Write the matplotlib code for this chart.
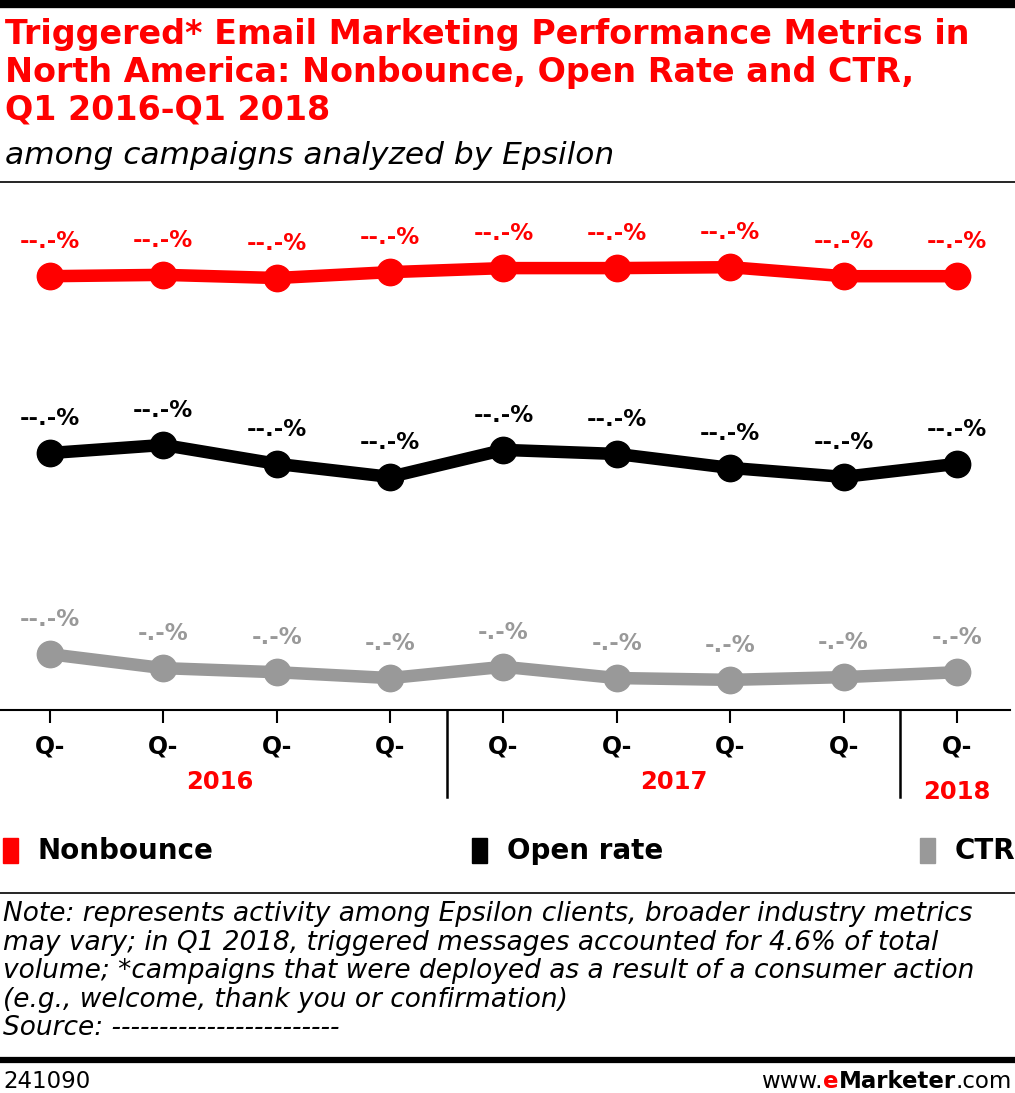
import matplotlib
matplotlib.use("Agg")
import matplotlib.pyplot as plt
import matplotlib.transforms as mtransforms
from matplotlib.patches import Rectangle

# data (arbitrary scale, 0 at the axis line)
quarters = ["Q-", "Q-", "Q-", "Q-", "Q-", "Q-", "Q-", "Q-", "Q-"]
years = ["2016", "2017", "2018"]
nonbounce = [96.4, 96.7, 96.0, 97.3, 98.2, 98.2, 98.4, 96.4, 96.4]
open_rate = [57.1, 58.9, 54.7, 51.8, 57.8, 56.9, 53.8, 51.8, 54.7]
ctr = [12.4, 9.3, 8.4, 7.1, 9.6, 7.1, 6.7, 7.3, 8.4]
nonbounce_lbl = ["--.-%"] * 9
open_lbl = ["--.-%"] * 9
ctr_lbl = ["--.-%", "-.-%", "-.-%", "-.-%", "-.-%", "-.-%", "-.-%", "-.-%", "-.-%"]

RED = "#ff0000"
GRAY = "#999999"

W, H = 1015, 1093
fig = plt.figure(figsize=(W / 100, H / 100), dpi=100)


def fy(px):
    return 1 - px / H


# rules
fig.add_artist(plt.Line2D([0, 1], [fy(4), fy(4)], color="black", lw=6))
fig.add_artist(plt.Line2D([0, 1], [fy(182), fy(182)], color="black", lw=1.2))
fig.add_artist(plt.Line2D([0, 1], [fy(893), fy(893)], color="black", lw=1.2))
fig.add_artist(plt.Line2D([0, 1], [fy(1060), fy(1060)], color="black", lw=4.5))

# title
fig.text(5 / W, fy(18), "Triggered* Email Marketing Performance Metrics in\n"
         "North America: Nonbounce, Open Rate and CTR,\nQ1 2016-Q1 2018",
         color=RED, fontsize=24, fontweight="bold",
         va="top", ha="left", linespacing=1.18)
fig.text(5 / W, fy(155), "among campaigns analyzed by Epsilon", fontsize=22.5,
         style="italic", va="center", ha="left")

# chart
ax = fig.add_axes([0, fy(710), 1010 / W, (710 - 200) / H])
step = (957 - 50) / 8
ax.set_xlim(-50 / step, (1010 - 50) / step)
ax.set_ylim(0, 510 / 4.5)
x = list(range(len(quarters)))

series = [(nonbounce, nonbounce_lbl, RED), (open_rate, open_lbl, "black"),
          (ctr, ctr_lbl, GRAY)]
for vals, lbls, col in series:
    ax.plot(x, vals, color=col, lw=9, marker="o", ms=19, solid_joinstyle="round",
            clip_on=False)
    for xi, v, t in zip(x, vals, lbls):
        ax.annotate(t, (xi, v), xytext=(0, 25), textcoords="offset points",
                    ha="center", va="center", color=col, fontsize=16.5,
                    fontweight="bold")

for s in ["top", "right", "left"]:
    ax.spines[s].set_visible(False)
ax.spines["bottom"].set_linewidth(1.5)
ax.set_yticks([])
ax.set_xticks(x)
ax.set_xticklabels(quarters, fontsize=17, fontweight="bold")
ax.tick_params(axis="x", direction="out", length=9.5, width=1.5, pad=8)

trans = mtransforms.blended_transform_factory(ax.transData, ax.transAxes)
for xs in [3.5, 7.5]:
    ax.plot([xs, xs], [0, -87 / 510], transform=trans, color="black", lw=1.8,
            clip_on=False)
year_pos = [(1.5, -72), (5.5, -72), (8, -82)]
for (xp, yp), yr in zip(year_pos, years):
    ax.text(xp, yp / 510, yr, transform=trans, ha="center", va="center",
            color=RED, fontsize=17.5, fontweight="bold")

# legend
leg = [(3, "Nonbounce", RED), (472, "Open rate", "black"), (920, "CTR", GRAY)]
for xp, name, col in leg:
    fig.add_artist(Rectangle((xp / W, fy(863)), 15 / W, 25 / H, color=col))
    fig.text((xp + 35) / W, fy(851), name, fontsize=20, fontweight="bold",
             va="center", ha="left")

# note
note = ("Note: represents activity among Epsilon clients, broader industry metrics\n"
        "may vary; in Q1 2018, triggered messages accounted for 4.6% of total\n"
        "volume; *campaigns that were deployed as a result of a consumer action\n"
        "(e.g., welcome, thank you or confirmation)\n"
        "Source: ------------------------")
fig.text(3 / W, fy(901), note, fontsize=19, style="italic",
         va="top", ha="left", linespacing=1.13)

fs = 16.5
fig.text(3 / W, fy(1082), "241090", fontsize=fs, va="center")
tx = fig.text(1012 / W, fy(1082), ".com", fontsize=fs, va="center", ha="right")
fig.canvas.draw()
bb = tx.get_window_extent()
t2 = fig.text(bb.x0 / W, fy(1082), "Marketer", fontsize=fs,
              fontweight="bold", va="center", ha="right")
bb = t2.get_window_extent()
t3 = fig.text(bb.x0 / W, fy(1082), "e", fontsize=fs,
              fontweight="bold", color=RED, va="center", ha="right")
bb = t3.get_window_extent()
fig.text(bb.x0 / W, fy(1082), "www.", fontsize=fs, va="center", ha="right")

fig.savefig("out.png", dpi=100)
